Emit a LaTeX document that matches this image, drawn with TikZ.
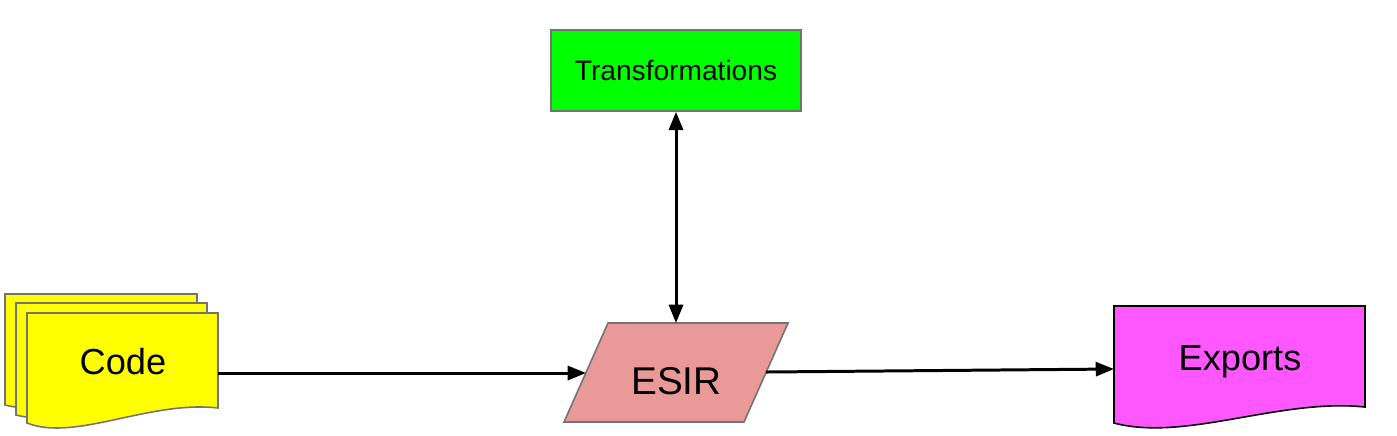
\documentclass[tikz,border=0pt]{standalone}
\usepackage{fontspec}
\setmainfont{Liberation Sans}
\usetikzlibrary{arrows.meta,positioning}
\definecolor{codeyellow}{HTML}{FFFF00}
\definecolor{transgreen}{HTML}{00FF00}
\definecolor{esirpink}{HTML}{EA9999}
\definecolor{exportpink}{HTML}{FF57FF}
\tikzset{>={Triangle[length=5.2pt,width=4pt]},
	shapeline/.style={draw=black!55,line width=0.45pt},
	flow/.style={line width=0.85pt},
	lbl/.style={font=\fontsize{10.3}{12}\selectfont,anchor=base,inner sep=0pt},
	tbox/.style={rectangle,shapeline,fill=transgreen,minimum width=2.5cm,minimum height=0.81cm,font=\fontsize{8}{10}\selectfont}}

\begin{document}
\begin{tikzpicture}[x=0.01cm,y=-0.01cm]
	\useasboundingbox (0,0) rectangle (1397,435);
	% code stack
	\draw[shapeline,fill=codeyellow] (5,294) -- (197,294) -- (197,392) .. controls (130,384) and (55,418) .. (5,405) -- cycle;
	\draw[shapeline,fill=codeyellow] (16,303) -- (207,303) -- (207,401) .. controls (140,393) and (66,428) .. (16,415) -- cycle;
	\draw[shapeline,fill=codeyellow] (27,313) -- (218,313) -- (218,408) .. controls (150,400) and (75,442) .. (27,423) -- cycle;
	% esir
	\draw[shapeline,fill=esirpink] (608,323) -- (788,323) -- (744,422) -- (564,422) -- cycle;
	% exports
	\draw[draw=black,line width=0.45pt,fill=exportpink] (1114,306) -- (1365,306) -- (1365,407) .. controls (1280,398) and (1185,442) .. (1114,423) -- cycle;
	\node (trans) at (676,70.5) [tbox] {Transformations};
	\node (code) at (123,374) [lbl] {Code};
	\node (esir) at (676.5,394) [lbl,font=\fontsize{11}{13}\selectfont] {ESIR};
	\node (exports) at (1240,370) [lbl] {Exports};
	\coordinate (codeR) at (218,373);
	\coordinate (esirL) at (586,373);
	\coordinate (esirT) at (676,323);
	\coordinate (esirR) at (766,372);
	\coordinate (expL) at (1114,369);
	\draw[->,flow] (codeR) -- (esirL);
	\draw[<->,flow] (trans) -- (esirT);
	\draw[->,flow] (esirR) -- (expL);
\end{tikzpicture}
\end{document}
